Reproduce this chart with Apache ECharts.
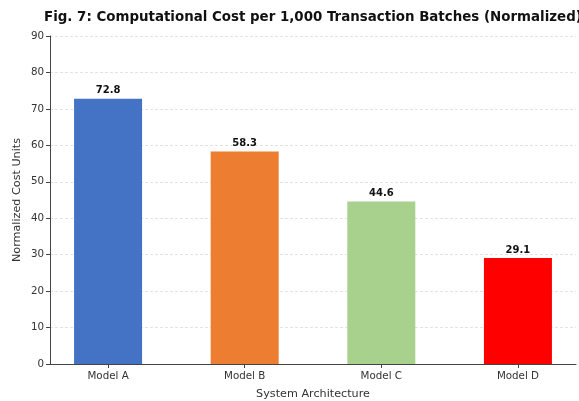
<!DOCTYPE html>
<html>
<head>
<meta charset="utf-8">
<script src="https://cdn.jsdelivr.net/npm/echarts@6/dist/echarts.min.js"></script>
<style>
  html, body { margin: 0; padding: 0; background: #fff; }
  #chart { width: 579px; height: 401px; }
</style>
</head>
<body>
<div id="chart"></div>
<script>
var categories = ['Model A', 'Model B', 'Model C', 'Model D'];
var costValues = [72.8, 58.3, 44.6, 29.1];
var barColors = ['#4472C4', '#ED7D31', '#A9D18E', '#FF0000'];
var yTicks = [0, 10, 20, 30, 40, 50, 60, 70, 80, 90];

var myChart = echarts.init(document.getElementById('chart'));
var font = "'DejaVu Sans', sans-serif";

myChart.setOption({
  animation: false,
  title: {
    text: 'Fig. 7: Computational Cost per 1,000 Transaction Batches (Normalized)',
    left: 39,
    top: 6,
    textStyle: { fontFamily: font, fontSize: 13.4, fontWeight: 'bold', color: '#111' }
  },
  grid: { left: 50, right: 3, top: 36, bottom: 37, outerBoundsMode: 'none' },
  xAxis: {
    type: 'value',
    min: -0.425,
    max: 3.425,
    name: 'System Architecture',
    nameLocation: 'middle',
    nameGap: 25,
    nameTextStyle: { fontFamily: font, fontSize: 11.2, color: '#333' },
    axisLine: { show: true, onZero: false, lineStyle: { color: '#444', width: 1 } },
    axisTick: { show: true, customValues: [0, 1, 2, 3], length: 4, lineStyle: { color: '#444' } },
    axisLabel: {
      customValues: [0, 1, 2, 3],
      formatter: function (v) { return categories[Math.round(v)]; },
      fontFamily: font, fontSize: 10.3, color: '#333', margin: 7
    },
    splitLine: { show: false }
  },
  yAxis: {
    type: 'value',
    min: yTicks[0],
    max: yTicks[yTicks.length - 1],
    interval: 10,
    name: 'Normalized Cost Units',
    nameLocation: 'middle',
    nameGap: 27,
    nameMoveOverlap: false,
    nameTextStyle: { fontFamily: font, fontSize: 11.2, color: '#333' },
    axisLine: { show: true, onZero: false, lineStyle: { color: '#444', width: 1 } },
    axisTick: { show: true, length: 4, lineStyle: { color: '#444' } },
    axisLabel: { fontFamily: font, fontSize: 10.3, color: '#333', margin: 6 },
    splitLine: { show: true, lineStyle: { color: '#e3e3e3', type: [3, 2], width: 1 } }
  },
  series: [{
    type: 'bar',
    barWidth: 68,
    data: costValues.map(function (v, i) {
      return { value: [i, v], itemStyle: { color: barColors[i] } };
    }),
    label: {
      show: true,
      position: 'top',
      distance: 3,
      formatter: function (p) { return p.value[1].toFixed(1); },
      fontFamily: font, fontSize: 10, fontWeight: 'bold', color: '#111'
    }
  }]
});
</script>
</body>
</html>
